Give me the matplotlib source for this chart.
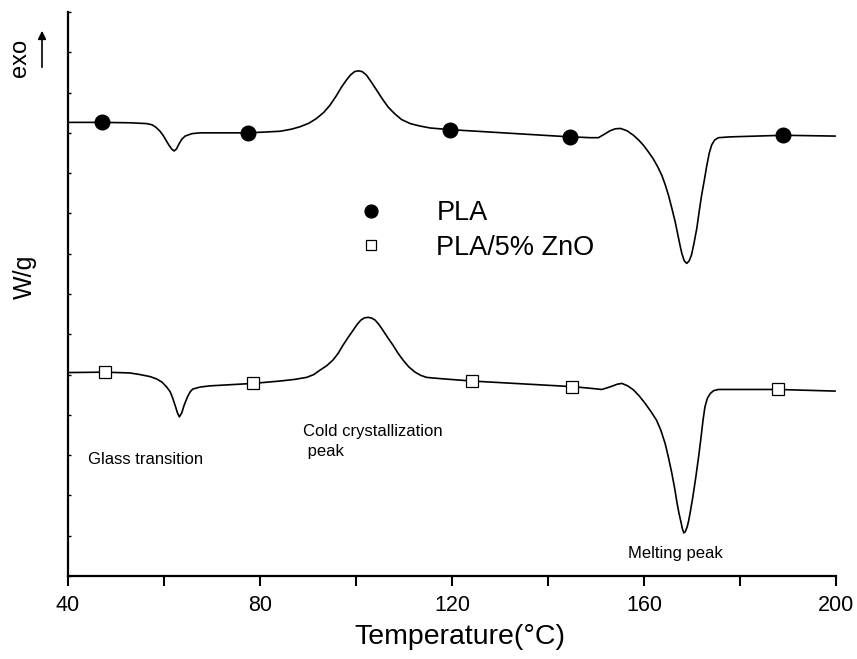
import numpy as np
import matplotlib
matplotlib.use('Agg')
import matplotlib.pyplot as plt
from matplotlib.ticker import MultipleLocator

plt.rcParams['font.family'] = ['Liberation Sans', 'DejaVu Sans']

# curves (temperature in C, signal in arbitrary W/g units)
pla_T = [40.0, 47.1, 52.9, 56.4, 57.5, 58.3, 59.1, 59.8, 60.5, 61.0, 61.6, 62.1, 62.6,
         63.1, 63.7, 64.4, 65.8, 67.5, 77.4, 81.0, 84.2, 86.5, 88.3, 90.2, 91.8, 93.3,
         94.6, 95.9, 97.0, 98.0, 98.8, 99.7, 100.5, 101.3, 102.2, 103.2, 104.3, 105.5,
         106.7, 108.1, 109.5, 111.3, 113.3, 115.5, 117.5, 119.6, 144.6, 147.0, 148.8,
         150.5, 151.8, 152.9, 154.0, 155.1, 156.5, 157.8, 158.9, 159.9, 160.9, 161.9,
         162.8, 163.7, 164.4, 165.1, 165.8, 166.5, 167.0, 167.5, 167.9, 168.4, 168.9,
         169.4, 169.9, 170.4, 171.0, 171.5, 172.0, 172.6, 173.1, 173.6, 174.1, 174.7,
         175.5, 177.9, 189.0, 199.8]
pla_y = [11.26, 11.26, 11.25, 11.23, 11.20, 11.14, 11.05, 10.94, 10.80, 10.70, 10.60, 10.55, 10.60,
         10.72, 10.84, 10.92, 10.98, 11.00, 11.00, 11.02, 11.04, 11.09, 11.15, 11.24, 11.36, 11.51,
         11.69, 11.92, 12.14, 12.31, 12.43, 12.52, 12.54, 12.52, 12.43, 12.26, 12.06, 11.84,
         11.64, 11.47, 11.33, 11.23, 11.17, 11.12, 11.10, 11.08, 10.90, 10.89, 10.88,
         10.88, 10.97, 11.05, 11.10, 11.11, 11.05, 10.94, 10.82, 10.69, 10.53, 10.36,
         10.17, 9.95, 9.72, 9.45, 9.13, 8.79, 8.50, 8.21, 8.00, 7.82, 7.76,
         7.82, 7.97, 8.25, 8.63, 9.05, 9.45, 9.85, 10.20, 10.50, 10.70, 10.82,
         10.88, 10.90, 10.94, 10.92]

zno_T = [40.0, 47.7, 52.9, 55.0, 57.1, 58.5, 59.6, 60.5, 61.3, 61.8, 62.3, 62.8, 63.2,
         63.7, 64.2, 64.9, 65.5, 66.0, 67.5, 69.6, 78.5, 84.2, 87.2, 89.7, 91.2, 92.5,
         93.9, 95.2, 96.3, 97.3, 98.4, 99.4, 100.2, 101.0, 101.8, 102.6, 103.3, 104.0,
         104.8, 105.6, 106.6, 107.7, 108.7, 109.8, 111.0, 112.3, 113.5, 114.7, 117.5,
         124.1, 145.1, 148.8, 151.2, 152.3, 153.3, 154.4, 155.4, 156.6, 157.8, 159.0,
         160.2, 161.4, 162.6, 163.5, 164.4, 165.1, 165.8, 166.4, 166.9, 167.3, 167.7,
         168.0, 168.3, 168.6, 169.0, 169.3, 169.6, 170.2, 170.8, 171.4, 171.9, 172.3,
         172.7, 173.2, 173.8, 174.5, 175.5, 177.9, 188.0, 199.8]
zno_y = [5.05, 5.06, 5.04, 5.00, 4.95, 4.89, 4.81, 4.70, 4.57, 4.42, 4.24, 4.05, 3.95,
         4.05, 4.24, 4.45, 4.58, 4.64, 4.69, 4.72, 4.78, 4.84, 4.88, 4.93, 5.00, 5.11,
         5.22, 5.36, 5.53, 5.73, 5.93, 6.10, 6.24, 6.35, 6.41, 6.42, 6.40, 6.35,
         6.24, 6.10, 5.92, 5.73, 5.54, 5.36, 5.19, 5.06, 4.98, 4.93, 4.90,
         4.84, 4.70, 4.66, 4.63, 4.67, 4.71, 4.76, 4.78, 4.72, 4.62, 4.47,
         4.29, 4.09, 3.87, 3.62, 3.29, 2.94, 2.55, 2.17, 1.80, 1.55, 1.34,
         1.17, 1.07, 1.10, 1.22, 1.37, 1.56, 1.98, 2.46, 2.98, 3.46, 3.87,
         4.20, 4.41, 4.53, 4.60, 4.63, 4.63, 4.63, 4.59]

# symbol positions
pla_mark_T = [47.1, 77.4, 119.6, 144.6, 189.0]
pla_mark_y = [11.26, 11.00, 11.08, 10.90, 10.94]
zno_mark_T = [47.7, 78.5, 124.1, 145.1, 188.0]
zno_mark_y = [5.06, 4.78, 4.84, 4.70, 4.63]

fig = plt.figure(figsize=(8.57, 6.59), dpi=100)
ax = fig.add_axes([68 / 857, 83 / 659, 768 / 857, 564 / 659])

ax.plot(pla_T, pla_y, color='black', lw=1.2)
ax.plot(zno_T, zno_y, color='black', lw=1.2)
ax.plot(pla_mark_T, pla_mark_y, 'o', color='black', ms=10.5, label='PLA')
ax.plot(zno_mark_T, zno_mark_y, 's', mfc='white', mec='black', mew=0.9, ms=8.5,
        label='PLA/5% ZnO')

ax.set_xlim(40, 200)
ax.set_ylim(0, 14)
ax.xaxis.set_major_locator(MultipleLocator(40))
ax.xaxis.set_minor_locator(MultipleLocator(20))
ax.set_yticks(np.arange(0, 15, 1))
ax.tick_params(axis='x', which='both', direction='out', length=7, width=1.5,
               labelsize=15.5, pad=7)
ax.tick_params(axis='y', which='both', direction='in', length=2.5, width=1,
               labelleft=False)
for s in ['top', 'right']:
    ax.spines[s].set_visible(False)
for s in ['left', 'bottom']:
    ax.spines[s].set_linewidth(1.6)

ax.set_xlabel('Temperature(°C)', fontsize=20.5)
ax.xaxis.set_label_coords(0.51, -0.085)
ax.set_ylabel('W/g', fontsize=18)
ax.yaxis.set_label_coords(-0.04, 0.53)

ax.text(44.2, 2.88, 'Glass transition', fontsize=12, va='center', ha='left')
ax.text(88.9, 3.34, 'Cold crystallization\n peak', fontsize=12, va='center',
        ha='left', linespacing=1.35)
ax.text(156.7, 0.57, 'Melting peak', fontsize=12, va='center', ha='left')

ax.legend(loc='upper left', bbox_to_anchor=(0.344, 0.69), frameon=False,
          fontsize=19.5, borderpad=0, handlelength=1.85, handletextpad=1.5,
          labelspacing=0.3, markerscale=0.88)

fig.text(20 / 857, 1 - 58 / 659, 'exo', rotation=90, fontsize=17,
         ha='center', va='center')
ax.annotate('', xy=(42 / 857, 1 - 28 / 659), xytext=(42 / 857, 1 - 70 / 659),
            xycoords='figure fraction', textcoords='figure fraction',
            arrowprops=dict(arrowstyle='-|>', lw=1.2, color='black',
                            mutation_scale=12))

plt.savefig('out.png', dpi=100)
